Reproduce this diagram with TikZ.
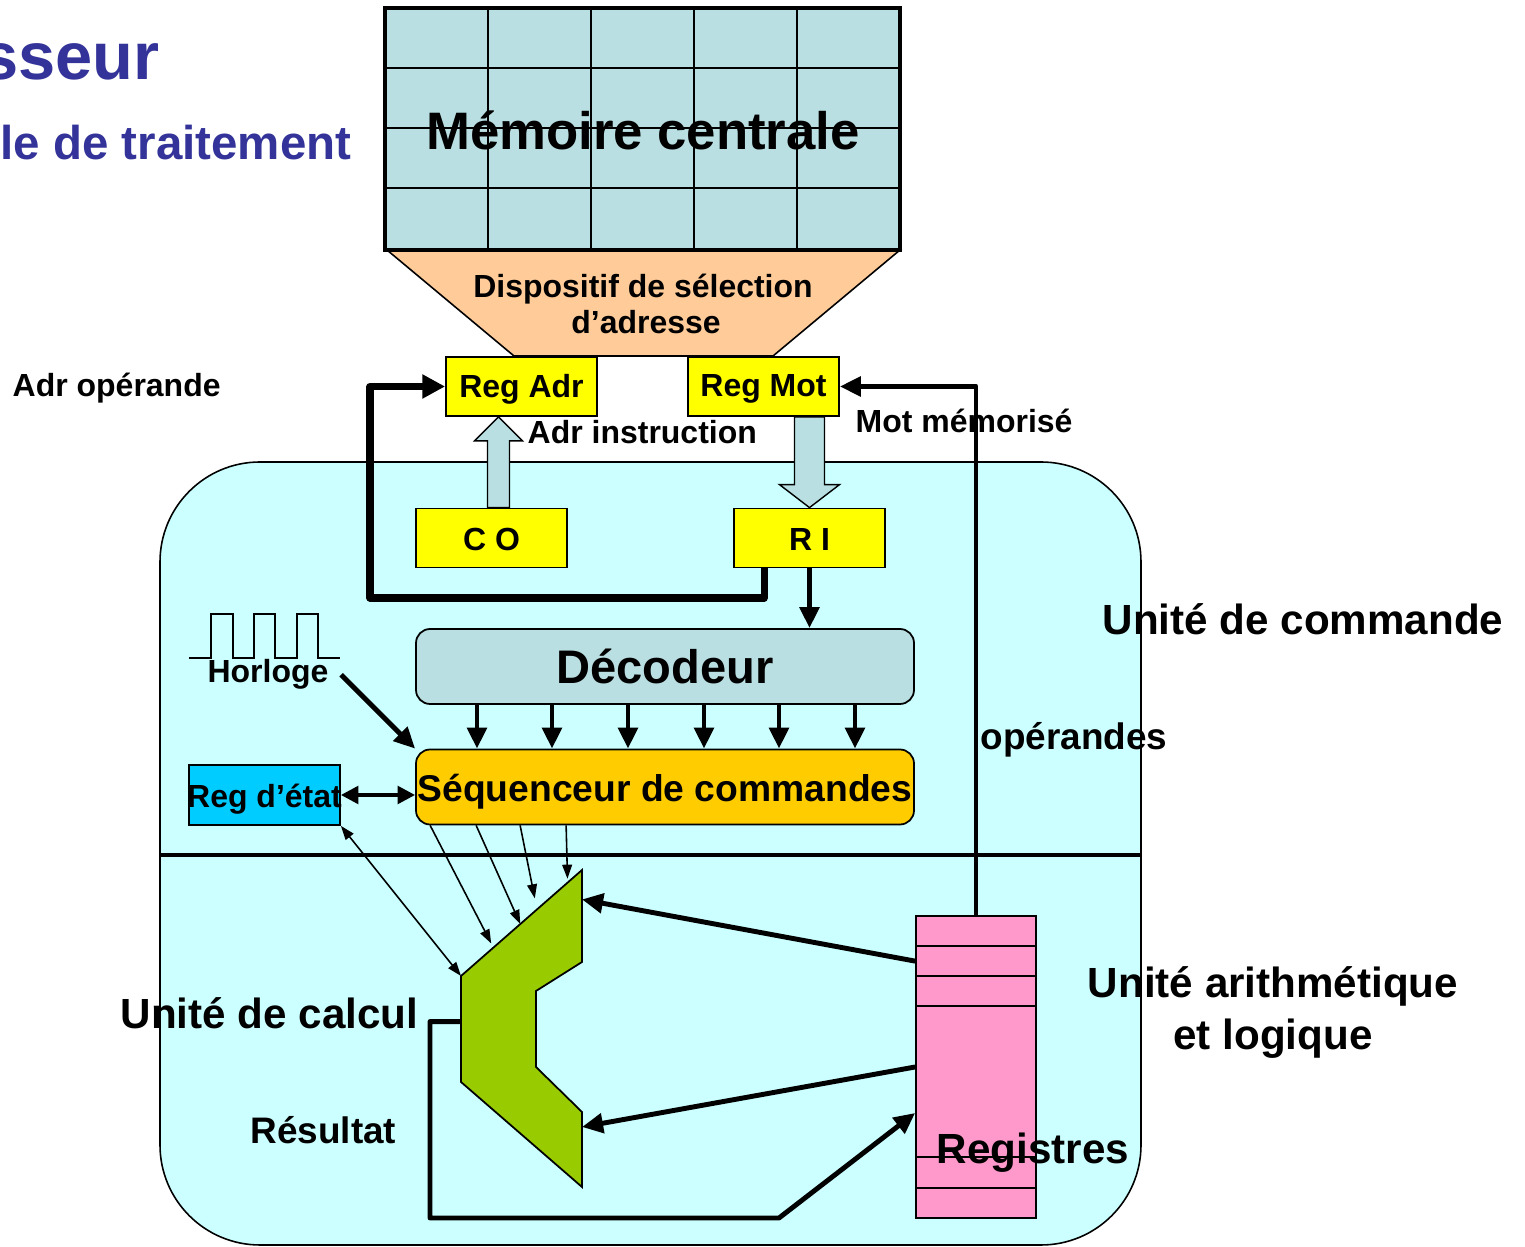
\documentclass[tikz,border=0pt]{standalone}
\usepackage{fontspec}
\setmainfont{Liberation Sans}
\usetikzlibrary{arrows.meta,positioning,calc}
\definecolor{memBlue}{RGB}{185,223,227}
\definecolor{selOrange}{RGB}{255,204,153}
\definecolor{ucCyan}{RGB}{204,255,255}
\definecolor{regYellow}{RGB}{255,255,0}
\definecolor{seqGold}{RGB}{255,204,0}
\definecolor{etatBlue}{RGB}{0,204,255}
\definecolor{aluGreen}{RGB}{153,204,0}
\definecolor{regsPink}{RGB}{255,153,204}
\definecolor{titleBlue}{RGB}{51,51,153}
\newcommand{\bfsz}[1]{\fontsize{#1}{#1}\selectfont\bfseries}
\newcommand{\lowered}[2]{\raisebox{-#1}[\height][\depth]{#2}}
\tikzset{
  regbox/.style={draw, fill=regYellow, line width=0.5pt, minimum width=15.1mm, minimum height=5.9mm,
                 inner sep=0pt, font=\bfsz{9.1}},
  unitbox/.style={draw, rounded corners=4pt, line width=0.5pt, minimum width=49.8mm,
                  minimum height=7.5mm, inner sep=0pt},
  bigarrow/.style={-{Triangle[length=6pt,width=5.5pt]}, line width=1.4pt, line join=round},
  loopline/.style={-{Triangle[length=6.5pt,width=6.5pt]}, line width=2pt, line join=round},
  dblarrow/.style={{Triangle[length=5pt,width=5pt]}-{Triangle[length=5pt,width=5pt]}, line width=1.1pt},
  thinarrow/.style={-{Triangle[length=4pt,width=2.8pt]}, line width=0.45pt},
  thinboth/.style={{Triangle[length=4pt,width=2.8pt]}-{Triangle[length=4pt,width=2.8pt]}, line width=0.45pt},
  fatarrow/.style={draw, fill=memBlue, line width=0.4pt},
  lbl/.style={inner sep=0pt, font=\bfsz{9.1}},
  biglbl/.style={inner sep=0pt, font=\bfsz{12}}
}
\begin{document}
\begin{tikzpicture}[x=0.1mm, y=-0.1mm]
\useasboundingbox (0,0) rectangle (1525,1247);
% zone de l'unite de commande / calcul
\draw[fill=ucCyan, line width=0.45pt, rounded corners=10mm] (160,462) rectangle (1141,1245);
\draw[line width=1.4pt] (160,855) -- (1141,855);

% memoire et selection
\draw[fill=selOrange, line width=0.45pt] (387,250) -- (900,250) -- (773,356) -- (514,356) -- cycle;
\fill[memBlue] (385,8) rectangle (900,250);
\foreach \x in {488,591,694,797} \draw[line width=0.6pt] (\x,8) -- (\x,250);
\foreach \y in {68,128,188} \draw[line width=0.6pt] (385,\y) -- (900,\y);
\draw[line width=1.2pt] (385,8) rectangle (900,250);
\node[inner sep=0pt, font=\bfsz{15}, anchor=base] (memLbl) at (643,150) {Mémoire centrale};
\node[lbl, anchor=base] (selA) at (643,298) {Dispositif de sélection};
\node[lbl, anchor=base] (selB) at (646,334) {d’adresse};

% registres
\node[regbox] (regAdr) at (521.5,386.5) {\lowered{0.8pt}{Reg Adr}};
\node[regbox] (regMot) at (763.5,386.5) {\lowered{0.8pt}{Reg Mot}};
\node[regbox] (co) at (491.5,538) {\lowered{0.5pt}{C O}};
\node[regbox] (ri) at (809.5,538) {\lowered{0.5pt}{R I}};
\node[unitbox, fill=memBlue, font=\bfsz{13.4}] (dec) at (665,666.5) {Décodeur};
\node[unitbox, fill=seqGold, font=\bfsz{10.6}] (seq) at (665,787) {\lowered{1.4pt}{Séquenceur de commandes}};
\node[draw, fill=etatBlue, line width=0.5pt, minimum width=15.1mm, minimum height=6mm, inner sep=0pt,
      font=\bfsz{9.1}] (etat) at (264.5,795) {\lowered{1.2pt}{\makebox[14mm]{Reg d’état}}};
\node[draw, fill=regsPink, line width=0.5pt, minimum width=12mm, minimum height=30.2mm, inner sep=0pt] (regs) at (976,1067) {};
\foreach \y in {946,976,1006,1157,1188} \draw[line width=0.5pt] (916,\y) -- (1036,\y);

% unite de calcul
\coordinate (aluT) at (582,870);
\coordinate (aluR1) at (582,962);
\coordinate (aluN1) at (536,991);
\coordinate (aluN2) at (536,1067);
\coordinate (aluR2) at (582,1112);
\coordinate (aluB) at (582,1187);
\coordinate (aluBL) at (461,1082);
\coordinate (aluL) at (461,976);
\draw[fill=aluGreen, line width=0.5pt] (aluT) -- (aluR1) -- (aluN1) -- (aluN2) -- (aluR2) -- (aluB) -- (aluBL) -- (aluL) -- cycle;

% horloge
\draw[line width=0.6pt] (189,658) -- (211,658) -- (211,614) -- (233,614) -- (233,658) -- (254,658) -- (254,614)
  -- (275,614) -- (275,658) -- (297,658) -- (297,614) -- (318,614) -- (318,658) -- (340,658);
\node[lbl, anchor=base] (horl) at (268,683) {Horloge};

% fleches larges
\coordinate (caBot) at ($(co.north)+(7,0)$);
\coordinate (caTop) at (caBot |- regAdr.south);
\draw[fatarrow] ($(caBot)+(-11,0)$) -- ($(caTop)+(-11,24)$) -- ($(caTop)+(-24,24)$) -- (caTop)
  -- ($(caTop)+(24,24)$) -- ($(caTop)+(11,24)$) -- ($(caBot)+(11,0)$) -- cycle;
\coordinate (rmTop) at (regMot.south -| ri.north);
\coordinate (rmBot) at (ri.north);
\draw[fatarrow] ($(rmTop)+(-15,0)$) -- ($(rmBot)+(-15,-23)$) -- ($(rmBot)+(-30,-23)$) -- (rmBot)
  -- ($(rmBot)+(30,-23)$) -- ($(rmBot)+(15,-23)$) -- ($(rmTop)+(15,0)$) -- cycle;

% liaisons
\draw[loopline] ($(ri.south west)+(31,0)$) |- (370,598) |- (regAdr.west);
\draw[bigarrow] (regs.north) |- (regMot.east);
\draw[bigarrow] (ri.south) -- (ri.south |- dec.north);
\foreach \x in {477,552,628,704,779,855} {
  \coordinate (d\x) at (\x,0);
  \draw[bigarrow] (d\x |- dec.south) -- (d\x |- seq.north);
}
\draw[bigarrow] ($(horl.east)+(12,0)$) -- (seq.north west);
\draw[dblarrow] (etat.east) -- (etat.east -| seq.west);
\foreach \dx/\t/\up in {15/0.25/-6, 61/0.49/0, 105/0.61/-13, 151/0.88/-4}
  \draw[thinarrow] ($(seq.south west)+(\dx,0)$) -- ($($(aluL)!\t!(aluT)$)+(0,\up)$);
\draw[thinboth] (etat.south east) -- (aluL);
\draw[bigarrow] ($(regs.north west)+(0,46)$) -- ($(aluT)!0.32!(aluR1)$);
\draw[bigarrow] (regs.west) -- ($(aluR2)!0.2!(aluB)$);
\draw[bigarrow] ($(aluL)!0.43!(aluBL)$) -- ++(-31,0) |- (779,1218) -- ($(regs.west)+(0,46)$);

% textes
\node[inner sep=0pt, font=\bfsz{19}, text=titleBlue, anchor=base east] (ttlA) at (160,80) {sseur};
\node[inner sep=0pt, font=\bfsz{13.5}, text=titleBlue, anchor=base east] (ttlB) at (352,160) {le de traitement};
\node[lbl, anchor=base west] (adrOp) at (12,397) {Adr opérande};
\node[lbl, anchor=base west] (adrIns) at (527,444) {Adr instruction};
\node[lbl, anchor=base west] (motMem) at (855,433) {Mot mémorisé};
\node[inner sep=0pt, font=\bfsz{10.5}, anchor=base west] (oper) at (980,750) {opérandes};
\node[biglbl, anchor=base west] (ucLbl) at (1102,635) {Unité de commande};
\node[biglbl, anchor=base west] (calcLbl) at (120,1029) {Unité de calcul};
\node[inner sep=0pt, font=\bfsz{10.5}, anchor=base west] (resLbl) at (250,1144) {Résultat};
\node[biglbl, anchor=base] (ualA) at (1273,998) {Unité arithmétique};
\node[biglbl, anchor=base] (ualB) at (1273,1050) {et logique};
\node[biglbl, anchor=base west] (regsLbl) at (936,1164) {Registres};
\end{tikzpicture}
\end{document}
